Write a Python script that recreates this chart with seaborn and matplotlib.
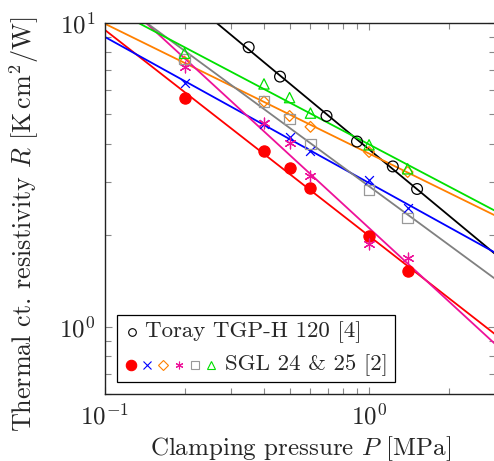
import numpy as np
import pandas as pd
import seaborn as sns
import matplotlib
matplotlib.use("Agg")
import matplotlib.pyplot as plt
from matplotlib.lines import Line2D
from matplotlib.offsetbox import AnchoredOffsetbox, DrawingArea, HPacker, VPacker, TextArea
from matplotlib.ticker import LogLocator, NullFormatter

# clamping pressure [MPa]
p_toray = [0.35, 0.46, 0.69, 0.90, 1.23, 1.52]
p_sgl = [0.2, 0.4, 0.5, 0.6, 1.0, 1.4]

# thermal contact resistivity [K cm^2/W]
r_toray = [8.32, 6.66, 4.94, 4.07, 3.37, 2.84]
r_sgl_red = [5.65, 3.79, 3.33, 2.87, 1.99, 1.52]
r_sgl_blue = [6.34, 4.65, 4.22, 3.79, 3.04, 2.46]
r_sgl_orange = [7.46, 5.51, 4.94, 4.55, 3.76, 3.23]
r_sgl_magenta = [7.18, 4.70, 4.02, 3.14, 1.875, 1.68]
r_sgl_gray = [7.60, 5.51, 4.82, 4.00, 2.82, 2.28]
r_sgl_green = [7.95, 6.30, 5.68, 5.05, 3.97, 3.31]

legend_labels = ["Toray TGP-H 120 [4]", "SGL 24 & 25 [2]"]

sns.set_theme(style="ticks")
plt.rcParams.update({
    "font.family": "serif",
    "font.serif": ["cmr10"],
    "mathtext.fontset": "cm",
    "axes.formatter.use_mathtext": True,
    "font.size": 18,
    "axes.edgecolor": "#222222",
    "axes.linewidth": 1.0,
})

# (values, pressures, line colour, marker, marker face, marker edge, size)
series = [
    (r_toray, p_toray, "black", "o", "none", "black", 60),
    (r_sgl_red, p_sgl, "red", "o", "red", "red", 65),
    (r_sgl_blue, p_sgl, "blue", "x", None, "blue", 40),
    (r_sgl_orange, p_sgl, "#ff8000", "D", "none", "#ff8000", 30),
    (r_sgl_magenta, p_sgl, "#ee1199", (6, 2, 0), None, "#ee1199", 60),
    (r_sgl_gray, p_sgl, "#808080", "s", "none", "#999999", 55),
    (r_sgl_green, p_sgl, "#00e000", "^", "none", "#00e000", 55),
]

fig = plt.figure(figsize=(4.94, 4.61), dpi=100)
ax = fig.add_axes([0.2126, 0.1453, 0.7895, 0.8048])

xfit = np.geomspace(0.1, 3.0, 60)
for r, p, lc, mk, fc, ec, s in series:
    a, b = np.polyfit(np.log10(p), np.log10(r), 1)
    fit = pd.DataFrame({"P": xfit, "R": 10 ** (b + a * np.log10(xfit))})
    sns.lineplot(data=fit, x="P", y="R", color=lc, linewidth=1.3, ax=ax)
    if fc is None:
        ax.scatter(p, r, marker=mk, s=s, color=ec, linewidths=0.9, zorder=3)
    else:
        sns.scatterplot(x=p, y=r, marker=mk, s=s, facecolor=fc, edgecolor=ec,
                        linewidth=0.9, ax=ax, zorder=3)

ax.set_xscale("log")
ax.set_yscale("log")
ax.set_xlim(0.1, 3.0)
ax.set_ylim(0.6, 10)
ax.xaxis.set_major_locator(LogLocator(base=10, numticks=10))
ax.yaxis.set_major_locator(LogLocator(base=10, numticks=10))
ax.xaxis.set_minor_locator(LogLocator(base=10, subs=np.arange(2, 10), numticks=20))
ax.yaxis.set_minor_locator(LogLocator(base=10, subs=np.arange(2, 10), numticks=20))
ax.xaxis.set_minor_formatter(NullFormatter())
ax.yaxis.set_minor_formatter(NullFormatter())
ax.tick_params(which="both", direction="in", top=True, right=True, color="#888888")
ax.tick_params(which="major", length=5, width=0.8, labelsize=18, pad=7)
ax.tick_params(which="minor", length=4, width=0.8)

ax.set_xlabel(r"Clamping pressure $P$ [MPa]", fontsize=18, labelpad=3)
ax.set_ylabel(r"Thermal ct. resistivity $R$ [K$\,$cm$^2$/W]", fontsize=18.8)
ax.yaxis.set_label_coords(-0.163, 0.457)

# legend: one row with the Toray circle, one row with all six SGL markers
da1 = DrawingArea(12, 12, 0, 0)
da1.add_artist(Line2D([6], [6], marker="o", markersize=5.5, markerfacecolor="none",
                      markeredgecolor="black", markeredgewidth=0.8, linestyle="none"))
da2 = DrawingArea(6 * 11.6, 12, 0, 0)
for i, (r, p, lc, mk, fc, ec, s) in enumerate(series[1:]):
    msize = 7.5 if i == 0 else 5.5
    face = ec if fc is None else fc
    da2.add_artist(Line2D([5.5 + 11.6 * i], [6], marker=mk, markersize=msize,
                          markerfacecolor=face, markeredgecolor=ec,
                          markeredgewidth=0.8, linestyle="none"))
row1 = HPacker(children=[da1, TextArea(legend_labels[0], textprops=dict(fontsize=16.5))],
               align="center", pad=0, sep=4)
row2 = HPacker(children=[da2, TextArea(legend_labels[1], textprops=dict(fontsize=16.5))],
               align="center", pad=0, sep=4)
box = VPacker(children=[row1, row2], align="left", pad=0, sep=8)
anch = AnchoredOffsetbox(loc="lower left", child=box, pad=0.4, borderpad=0,
                         frameon=True, bbox_to_anchor=(0.031, 0.032),
                         bbox_transform=ax.transAxes)
anch.patch.set_boxstyle("square", pad=0)
anch.patch.set_edgecolor("black")
anch.patch.set_linewidth(0.9)
ax.add_artist(anch)

fig.savefig("out.png", dpi=100)
